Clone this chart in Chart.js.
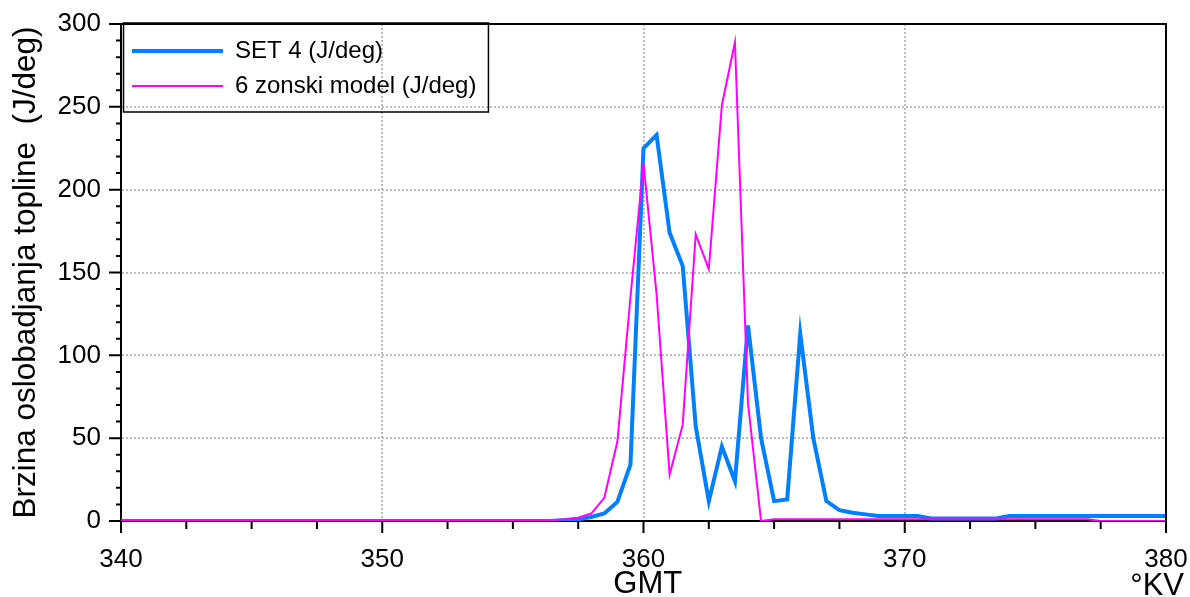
<!DOCTYPE html>
<html>
<head>
<meta charset="utf-8">
<script src="https://cdn.jsdelivr.net/npm/chart.js@4/dist/chart.umd.min.js"></script>
<style>
  html, body { margin: 0; padding: 0; background: #fff; }
</style>
</head>
<body>
<canvas id="chart" width="1190" height="597"></canvas>
<script>
// crank angle (deg) and heat release rate (J/deg)
var setAngle = [340, 356.5, 357, 357.5, 358, 358.5, 359, 359.5, 360, 360.5, 361, 361.5, 362, 362.5, 363, 363.5,
    364, 364.5, 365, 365.5, 366, 366.5, 367, 367.5, 368, 368.5, 369, 370.5, 371, 373.5, 374, 380];
var setValue = [0, 0, 0.5, 1, 2.4, 4.5, 11.5, 34, 225, 233, 174, 154, 57, 12, 45, 24,
    118, 50, 12, 13, 113, 50, 12, 6.5, 5, 4, 3, 3, 1.5, 1.5, 3, 3];

var zoneAngle = [340, 356, 356.5, 357, 357.5, 358, 358.5, 359, 359.5, 360, 360.5, 361, 361.5, 362, 362.5, 363,
    363.5, 364, 364.5, 365, 377, 377.5, 380];
var zoneValue = [0, 0, 0.6, 1, 2, 4.5, 14, 48, 135, 216, 137, 28, 58, 173, 152, 251,
    289, 71, 0, 1, 1, 0, 0];

var seriesNames = ["SET 4 (J/deg)", "6 zonski model (J/deg)"];
var xTitle = "GMT";
var xUnit = "\u00B0KV";
var yTitle = "Brzina oslobadjanja topline  (J/deg)";

var FONT = "'Liberation Sans', Arial, Helvetica, sans-serif";
var CLEAR = "rgba(0,0,0,0)";

function toPoints(xs, ys) {
    var pts = [];
    for (var i = 0; i < xs.length; i++) pts.push({x: xs[i], y: ys[i]});
    return pts;
}

function gridColor(ctx, step, lo, hi) {
    var v = ctx.tick ? ctx.tick.value : null;
    if (v === null || v === lo || v === hi) return CLEAR;
    return v % step === 0 ? "#bdbdbd" : CLEAR;
}

// tick marks, top/right frame, unit label and legend frame
var extras = {
    id: "extras",
    afterDraw: function (chart) {
        var ctx = chart.ctx;
        var area = chart.chartArea;
        var xs = chart.scales.x, ys = chart.scales.y;
        ctx.save();
        ctx.strokeStyle = "#000";
        ctx.lineWidth = 2;
        ctx.beginPath();
        ys.ticks.forEach(function (t) {
            var py = ys.getPixelForValue(t.value);
            var len = t.value % 50 === 0 ? 12 : 5;
            ctx.moveTo(area.left - len, py);
            ctx.lineTo(area.left, py);
        });
        xs.ticks.forEach(function (t) {
            var px = xs.getPixelForValue(t.value);
            var len = t.value % 10 === 0 ? 12 : 8;
            ctx.moveTo(px, area.bottom);
            ctx.lineTo(px, area.bottom + len);
        });
        ctx.moveTo(area.left, area.top);
        ctx.lineTo(area.right, area.top);
        ctx.lineTo(area.right, area.bottom);
        ctx.stroke();

        ctx.fillStyle = "#000";
        ctx.font = "31px " + FONT;
        ctx.textAlign = "right";
        ctx.textBaseline = "alphabetic";
        ctx.fillText(xUnit, 1184, 595);

        var boxes = chart.legend.legendHitBoxes;
        if (boxes && boxes.length) {
            var l = Infinity, r = -Infinity, t = Infinity, b = -Infinity;
            boxes.forEach(function (hb) {
                l = Math.min(l, hb.left);
                r = Math.max(r, hb.left + hb.width);
                t = Math.min(t, hb.top);
                b = Math.max(b, hb.top + hb.height);
            });
            ctx.lineWidth = 1.5;
            ctx.strokeRect(l - 8.5, t - 16, (r + 12) - (l - 8.5), (b + 14) - (t - 16));
        }
        ctx.restore();
    }
};

new Chart(document.getElementById("chart"), {
    type: "line",
    data: {
        datasets: [{
            label: seriesNames[0],
            data: toPoints(setAngle, setValue),
            borderColor: "#0080ff",
            backgroundColor: "#0080ff",
            borderWidth: 4,
            pointRadius: 0,
            tension: 0,
            order: 1
        }, {
            label: seriesNames[1],
            data: toPoints(zoneAngle, zoneValue),
            borderColor: "#ff00ff",
            backgroundColor: "#ff00ff",
            borderWidth: 2,
            pointRadius: 0,
            tension: 0,
            order: 0
        }]
    },
    options: {
        responsive: false,
        animation: false,
        layout: { padding: { left: 0, right: 24, top: 24, bottom: 0 } },
        plugins: {
            tooltip: { enabled: false },
            legend: {
                position: "chartArea",
                align: "start",
                title: {
                    display: true,
                    text: "",
                    font: { family: FONT, size: 12, lineHeight: 1 },
                    padding: { top: 16, bottom: 0 }
                },
                labels: {
                    usePointStyle: true,
                    pointStyle: "line",
                    pointStyleWidth: 91,
                    padding: 11,
                    color: "#000",
                    font: { family: FONT, size: 24 },
                    sort: function (a, b) { return a.datasetIndex - b.datasetIndex; }
                }
            }
        },
        scales: {
            x: {
                type: "linear",
                min: 340,
                max: 380,
                afterFit: function (s) { s.height = 76; },
                ticks: {
                    stepSize: 2.5,
                    autoSkip: false,
                    maxRotation: 0,
                    padding: 0,
                    color: "#000",
                    font: { family: FONT, size: 26 },
                    callback: function (v) { return v % 10 === 0 ? v : ""; }
                },
                grid: {
                    drawTicks: true,
                    tickLength: 23,
                    tickColor: CLEAR,
                    lineWidth: 2,
                    color: function (c) { return gridColor(c, 10, 340, 380); }
                },
                border: { display: true, color: "#000", width: 2, dash: [2, 2] },
                title: {
                    display: true,
                    text: " " + xTitle,
                    color: "#000",
                    font: { family: FONT, size: 31, lineHeight: 0.82 },
                    padding: 0
                }
            },
            y: {
                min: 0,
                max: 300,
                afterFit: function (s) { s.width = 121; },
                ticks: {
                    stepSize: 10,
                    autoSkip: false,
                    padding: 0,
                    color: "#000",
                    font: { family: FONT, size: 26 },
                    callback: function (v) { return v % 50 === 0 ? v : ""; }
                },
                grid: {
                    drawTicks: true,
                    tickLength: 20,
                    tickColor: CLEAR,
                    lineWidth: 2,
                    color: function (c) { return gridColor(c, 50, 0, 300); }
                },
                border: { display: true, color: "#000", width: 2, dash: [2, 2] },
                title: {
                    display: true,
                    text: yTitle,
                    color: "#000",
                    font: { family: FONT, size: 31.5 },
                    padding: { top: 7, bottom: 0 }
                }
            }
        }
    },
    plugins: [extras]
});
</script>
</body>
</html>
